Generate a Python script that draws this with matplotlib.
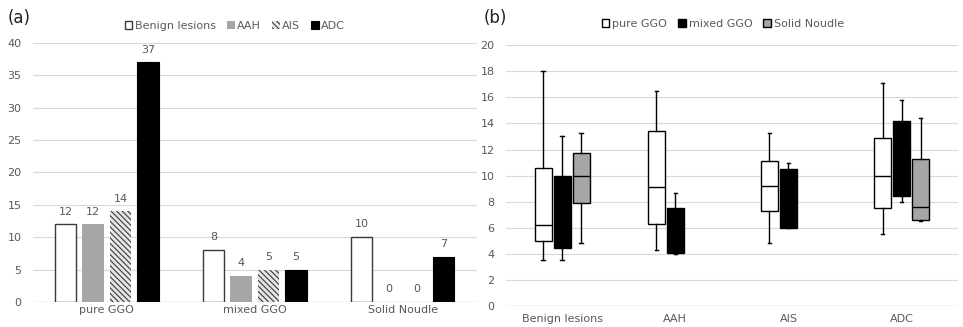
import matplotlib
matplotlib.use("Agg")
import matplotlib.pyplot as plt
from matplotlib.patches import Patch
import numpy as np

plt.rcParams['font.family'] = ['DejaVu Sans']
plt.rcParams['hatch.linewidth'] = 0.8

# ---------------- data (a) ----------------
bar_categories = ["pure GGO", "mixed GGO", "Solid Noudle"]
bar_series = ["Benign lesions", "AAH", "AIS", "ADC"]
benign_counts = [12, 8, 10]
aah_counts = [12, 4, 0]
ais_counts = [14, 5, 0]
adc_counts = [37, 5, 7]
a_yticks = [0, 5, 10, 15, 20, 25, 30, 35, 40]

# ---------------- data (b) ----------------
box_categories = ["Benign lesions", "AAH", "AIS", "ADC"]
box_series = ["pure GGO", "mixed GGO", "Solid Noudle"]
# (whisker low, q1, median, q3, whisker high); None = absent
pure_stats = [(3.55, 5.0, 6.2, 10.6, 18.0),
              (4.3, 6.3, 9.1, 13.4, 16.5),
              (4.8, 7.3, 9.2, 11.15, 13.3),
              (5.5, 7.5, 10.0, 12.9, 17.1)]
mixed_stats = [(3.55, 4.45, 7.0, 9.95, 13.0),
               (4.0, 4.05, 5.5, 7.55, 8.7),
               (6.0, 6.0, 8.0, 10.5, 11.0),
               (8.0, 8.4, 11.0, 14.2, 15.8)]
solid_stats = [(4.8, 7.9, 10.0, 11.7, 13.3),
               None,
               None,
               (6.5, 6.6, 7.6, 11.3, 14.45)]
b_yticks = [0, 2, 4, 6, 8, 10, 12, 14, 16, 18, 20]

TXT = "#595959"
GRID = "#d9d9d9"

fig = plt.figure(figsize=(9.63, 3.27), dpi=100)

# ---------------- panel (a) ----------------
axa = fig.add_axes([0.034, 0.0765, 0.461, 0.792])
x = np.arange(len(bar_categories))
w = 0.145
step = 0.185
styles = [
    dict(facecolor="white", edgecolor="#3a3a3a", linewidth=1.0),
    dict(facecolor="#a6a6a6", edgecolor="none", linewidth=0),
    dict(facecolor="#e6e6e6", edgecolor="#3a3a3a", hatch="\\\\\\\\\\\\", linewidth=0),
    dict(facecolor="black", edgecolor="black", linewidth=0.8),
]
all_counts = [benign_counts, aah_counts, ais_counts, adc_counts]
handles_a = []
for i, (name, vals, st) in enumerate(zip(bar_series, all_counts, styles)):
    pos = x + (i - 1.5) * step
    bars = axa.bar(pos, vals, width=w, label=name, zorder=3, **st)
    for p, v in zip(pos, vals):
        axa.text(p, v + 1.2, str(v), ha="center", va="bottom", fontsize=8, color=TXT)
    handles_a.append(bars)

axa.set_xlim(-0.5, 2.5)
axa.set_ylim(0, 40)
axa.set_yticks(a_yticks)
axa.set_xticks(x)
axa.set_xticklabels(bar_categories)
axa.grid(axis="y", color=GRID, linewidth=0.8, zorder=0)
axa.set_axisbelow(True)
for s in ["top", "right", "left", "bottom"]:
    axa.spines[s].set_visible(False)
axa.tick_params(axis="both", length=0, colors=TXT, labelsize=8)
axa.tick_params(axis="y", pad=8)
axa.tick_params(axis="x", pad=2)
axa.axhline(0, color=GRID, linewidth=1.0, zorder=1)

axa.legend(handles=handles_a, labels=bar_series, loc="lower center",
           bbox_to_anchor=(0.455, 1.03), ncol=4, frameon=False,
           fontsize=8, labelcolor=TXT, handlelength=0.7, handleheight=0.7,
           handletextpad=0.2, columnspacing=1.0, borderaxespad=0)

fig.text(0.008, 0.945, "(a)", fontsize=12, color="#222222", va="center")

# ---------------- panel (b) ----------------
axb = fig.add_axes([0.525, 0.064, 0.47, 0.798])
off = 0.168
bw = 0.148
series_styles = [("white", "black"), ("black", "black"), ("#a6a6a6", "black")]
all_stats = [pure_stats, mixed_stats, solid_stats]
for k, (sname, stats, (fc, mc)) in enumerate(zip(box_series, all_stats, series_styles)):
    bstats = []
    positions = []
    for ci, st in enumerate(stats):
        if st is None:
            continue
        lo, q1, med, q3, hi = st
        bstats.append(dict(whislo=lo, q1=q1, med=med, q3=q3, whishi=hi, fliers=[]))
        positions.append(ci + (k - 1) * off)
    axb.bxp(bstats, positions=positions, widths=bw, showfliers=False,
            patch_artist=True, manage_ticks=False,
            boxprops=dict(facecolor=fc, edgecolor="black", linewidth=1.0),
            medianprops=dict(color=mc, linewidth=1.0),
            whiskerprops=dict(color="black", linewidth=1.0),
            capprops=dict(color="black", linewidth=1.0),
            capwidths=0.03, zorder=3)

axb.set_xlim(-0.5, 3.5)
axb.set_ylim(0, 20)
axb.set_yticks(b_yticks)
axb.set_xticks(np.arange(len(box_categories)))
axb.set_xticklabels(box_categories)
axb.grid(axis="y", color=GRID, linewidth=0.8, zorder=0)
axb.set_axisbelow(True)
for s in ["top", "right", "left", "bottom"]:
    axb.spines[s].set_visible(False)
axb.axhline(0, color=GRID, linewidth=1.0, zorder=1)
axb.tick_params(axis="both", length=0, colors=TXT, labelsize=8)
axb.tick_params(axis="y", pad=8)
axb.tick_params(axis="x", pad=6)

hb = [Patch(facecolor=fc, edgecolor="black", linewidth=1.0) for fc, _ in series_styles]
axb.legend(handles=hb, labels=box_series, loc="lower center",
           bbox_to_anchor=(0.48, 1.045), ncol=3, frameon=False,
           fontsize=8, labelcolor=TXT, handlelength=0.7, handleheight=0.7,
           handletextpad=0.25, columnspacing=1.0, borderaxespad=0)

fig.text(0.502, 0.945, "(b)", fontsize=12, color="#222222", va="center")

fig.savefig("out.png", dpi=100, facecolor="white")
